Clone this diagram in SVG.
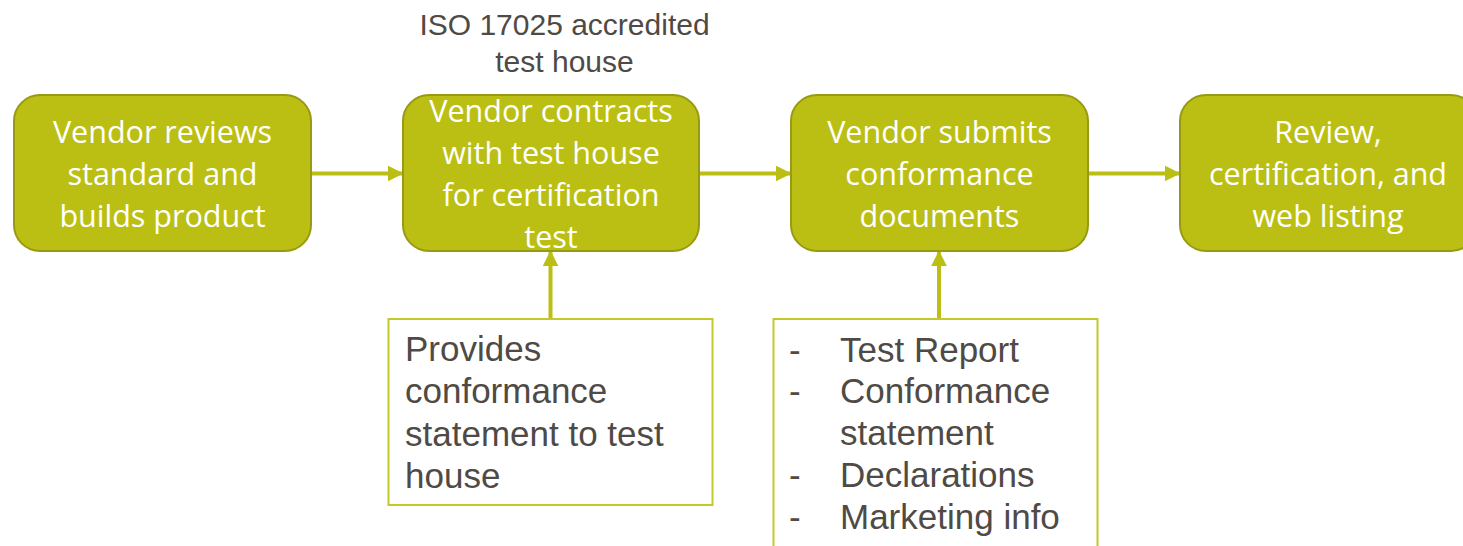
<svg xmlns="http://www.w3.org/2000/svg" width="1463" height="546" viewBox="0 0 1463 546">
<style>
.node rect{fill:#BBBF14;stroke:#979A12;stroke-width:2}
.nt{font-family:"Open Sans","Noto Sans",sans-serif;font-size:30.5px;fill:#FFFFFF;text-anchor:middle}
.note rect{fill:#FFFFFF;stroke:#C3C92A;stroke-width:2}
.gt{font-family:"Liberation Sans",Arial,sans-serif;font-size:35px;fill:#4F4A45}
.lbl{font-family:"Liberation Sans",Arial,sans-serif;font-size:30px;fill:#4F4A45;text-anchor:middle}
.conn line{stroke:#BBBF14;stroke-width:4}
</style>
<defs>
<marker id="ah" viewBox="0 0 10 10" refX="9" refY="5" markerWidth="4" markerHeight="4" markerUnits="strokeWidth" orient="auto">
<path d="M0,0 L10,5 L0,10 Z" fill="#BBBF14"/>
</marker>
</defs>
<rect width="1463" height="546" fill="#FFFFFF"/>
<g id="label-iso">
<text class="lbl" x="564.5" y="35">ISO 17025 accredited</text>
<text class="lbl" x="564.5" y="72">test house</text>
</g>
<g class="conn" id="connectors">
<line x1="312" y1="173.5" x2="402" y2="173.5" marker-end="url(#ah)"/>
<line x1="700" y1="173.5" x2="790" y2="173.5" marker-end="url(#ah)"/>
<line x1="1089" y1="173.5" x2="1179" y2="173.5" marker-end="url(#ah)"/>
<line x1="550.5" y1="319" x2="550.5" y2="252" marker-end="url(#ah)"/>
<line x1="939" y1="319" x2="939" y2="252" marker-end="url(#ah)"/>
</g>
<g class="node" id="n1">
<rect x="14" y="95" width="297" height="156" rx="26"/>
<text class="nt" x="162.5" y="143">Vendor reviews</text>
<text class="nt" x="162.5" y="185">standard and</text>
<text class="nt" x="162.5" y="227">builds product</text>
</g>
<g class="node" id="n2">
<rect x="403" y="95" width="296" height="156" rx="26"/>
<text class="nt" x="551" y="122">Vendor contracts</text>
<text class="nt" x="551" y="164">with test house</text>
<text class="nt" x="551" y="206">for certification</text>
<text class="nt" x="551" y="248">test</text>
</g>
<g class="node" id="n3">
<rect x="791" y="95" width="297" height="156" rx="26"/>
<text class="nt" x="939.5" y="143">Vendor submits</text>
<text class="nt" x="939.5" y="185">conformance</text>
<text class="nt" x="939.5" y="227">documents</text>
</g>
<g class="node" id="n4">
<rect x="1180" y="95" width="297" height="156" rx="26"/>
<text class="nt" x="1328" y="143">Review,</text>
<text class="nt" x="1328" y="185">certification, and</text>
<text class="nt" x="1328" y="227">web listing</text>
</g>
<g class="note" id="note1">
<rect x="388.5" y="319" width="324" height="186"/>
<text class="gt" x="405" y="361">Provides</text>
<text class="gt" x="405" y="403">conformance</text>
<text class="gt" x="405" y="446">statement to test</text>
<text class="gt" x="405" y="488">house</text>
</g>
<g class="note" id="note2">
<rect x="773.5" y="319" width="324" height="240"/>
<text class="gt" x="789" y="362">-</text>
<text class="gt" x="840" y="362">Test Report</text>
<text class="gt" x="789" y="403">-</text>
<text class="gt" x="840" y="403">Conformance</text>
<text class="gt" x="840" y="445">statement</text>
<text class="gt" x="789" y="487">-</text>
<text class="gt" x="840" y="487">Declarations</text>
<text class="gt" x="789" y="529">-</text>
<text class="gt" x="840" y="529">Marketing info</text>
</g>
</svg>
